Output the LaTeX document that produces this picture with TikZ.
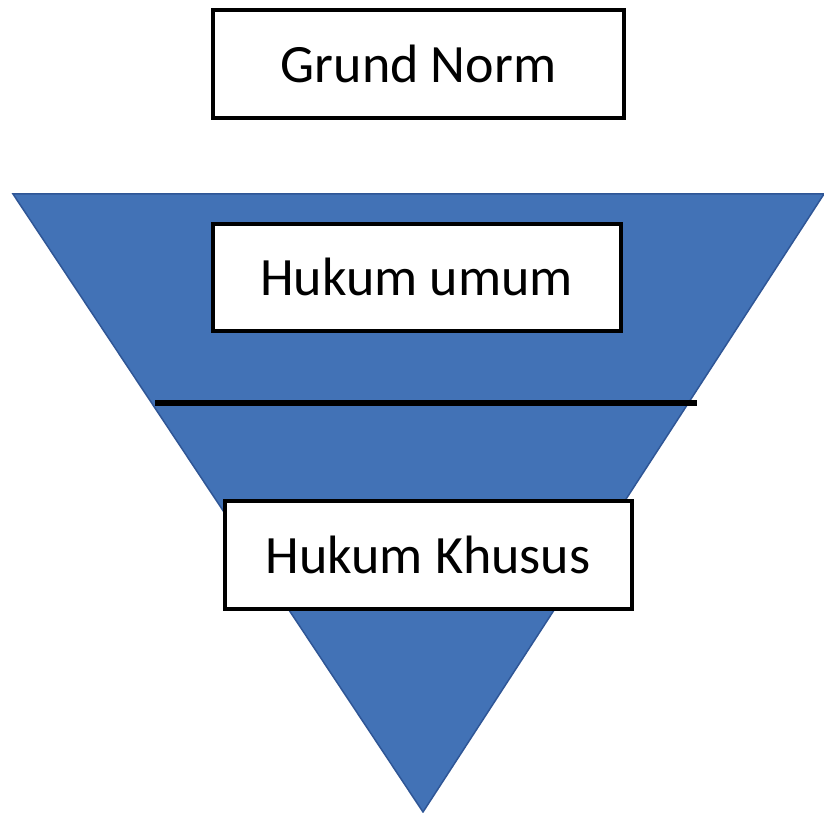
\documentclass[tikz,border=0pt]{standalone}
\usepackage{fontspec}
\setmainfont{Carlito}
\definecolor{triblue}{RGB}{66,114,182}
\definecolor{triedge}{RGB}{47,86,150}
\begin{document}
\begin{tikzpicture}[x=1pt,y=-1pt,
  labelbox/.style={draw=black, line width=4pt, fill=white, inner sep=0pt,
    font=\fontsize{54}{60}\selectfont, text=black}]
\useasboundingbox (0,0) rectangle (824,813);
% inverted triangle
\coordinate (tl) at (13,194);
\coordinate (tr) at (824,194);
\coordinate (ap) at (423,812);
\fill[triblue, draw=triedge, line width=1.5pt, line join=miter] (tl) -- (tr) -- (ap) -- cycle;
% horizontal divider
\coordinate (dl) at (155,403);
\coordinate (dr) at (697,403);
\draw[black, line width=6pt] (dl) -- (dr);
% boxes
\node[labelbox, minimum width=411pt, minimum height=108pt] (grund) at (418.5,64) {Grund Norm};
\node[labelbox, minimum width=408pt, minimum height=107pt] (umum) at (416.5,277) {Hukum umum};
\node[labelbox, minimum width=407pt, minimum height=108pt] (khusus) at (428,554.5) {Hukum Khusus};
\end{tikzpicture}
\end{document}
